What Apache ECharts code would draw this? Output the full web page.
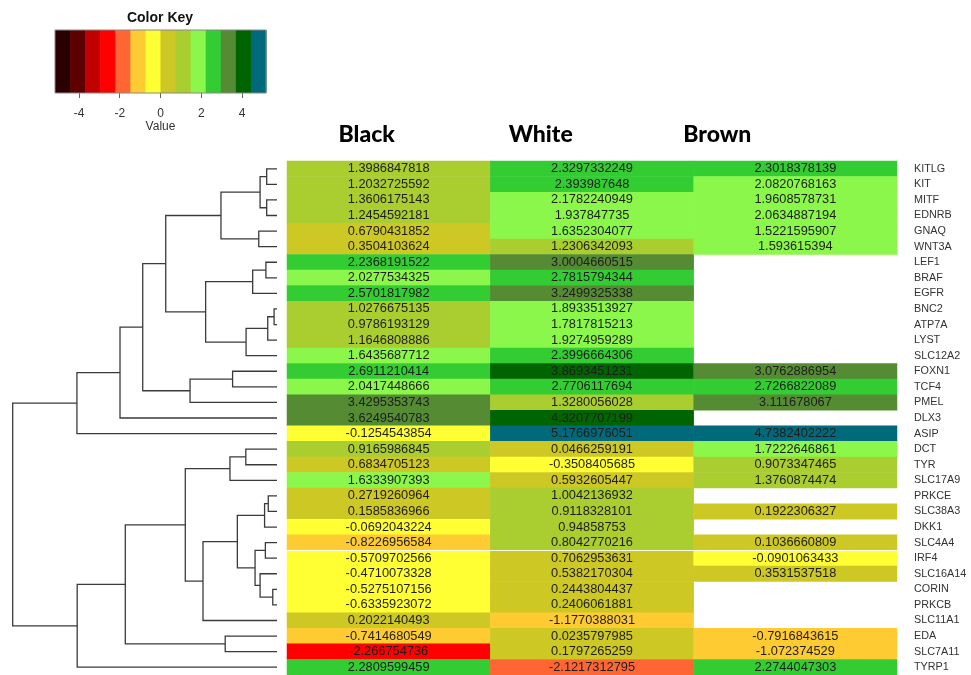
<!DOCTYPE html>
<html><head><meta charset="utf-8">
<script src="https://cdn.jsdelivr.net/npm/echarts@6/dist/echarts.min.js"></script>
<style>html,body{margin:0;padding:0;background:#fff}#c{width:971px;height:675px}</style>
</head><body><div id="c"></div>
<script>
// ---------- DATA ----------
const columns = ['Black', 'White', 'Brown'];
const genes = ['KITLG','KIT','MITF','EDNRB','GNAQ','WNT3A','LEF1','BRAF','EGFR','BNC2','ATP7A','LYST','SLC12A2','FOXN1','TCF4','PMEL','DLX3','ASIP','DCT','TYR','SLC17A9','PRKCE','SLC38A3','DKK1','SLC4A4','IRF4','SLC16A14','CORIN','PRKCB','SLC11A1','EDA','SLC7A11','TYRP1'];
const black = [1.3986847818, 1.2032725592, 1.3606175143, 1.2454592181, 0.6790431852, 0.3504103624, 2.2368191522, 2.0277534325, 2.5701817982, 1.0276675135, 0.9786193129, 1.1646808886, 1.6435687712, 2.6911210414, 2.0417448666, 3.4295353743, 3.6249540783, -0.1254543854, 0.9165986845, 0.6834705123, 1.6333907393, 0.2719260964, 0.1585836966, -0.0692043224, -0.8226956584, -0.5709702566, -0.4710073328, -0.5275107156, -0.6335923072, 0.2022140493, -0.7414680549, -2.266754736, 2.2809599459];
const white = [2.3297332249, 2.393987648, 2.1782240949, 1.937847735, 1.6352304077, 1.2306342093, 3.0004660515, 2.7815794344, 3.2499325338, 1.8933513927, 1.7817815213, 1.9274959289, 2.3996664306, 3.8693451231, 2.7706117694, 1.3280056028, 4.3207707199, 5.1766976051, 0.0466259191, -0.3508405685, 0.5932605447, 1.0042136932, 0.9118328101, 0.94858753, 0.8042770216, 0.7062953631, 0.5382170304, 0.2443804437, 0.2406061881, -1.1770388031, 0.0235797985, 0.1797265259, -2.1217312795];
const brown = [2.3018378139, 2.0820768163, 1.9608578731, 2.0634887194, 1.5221595907, 1.593615394, null, null, null, null, null, null, null, 3.0762886954, 2.7266822089, 3.111678067, null, 4.7382402222, 1.7222646861, 0.9073347465, 1.3760874474, null, 0.1922306327, null, 0.1036660809, -0.0901063433, 0.3531537518, null, null, null, -0.7916843615, -1.072374529, 2.2744047303];
const keyTicks = [-4, -2, 0, 2, 4];
const keyColors = ['#2a0000','#5c0000','#c10000','#ff0000','#ff6633','#ffcb33','#ffff33','#cdc823','#aacd2f','#8af74a','#33cc33','#558b33','#006400','#00697a'];
// dendrogram: [height, left, right]
const tree = [10,
  [7.57,
    [5.94,
      [5.08,
        [4.21,
          [2.12, [0.64, [0.39, 'KITLG', 'KIT'], [0.39, 'MITF', 'EDNRB']], [0.69, 'GNAQ', 'WNT3A']],
          [2.70, [0.92, [0.42, 'LEF1', 'BRAF'], 'EGFR'], [1.17, [0.35, [0.11, 'BNC2', 'ATP7A'], 'LYST'], 'SLC12A2']]
        ],
        [3.29, [1.68, 'FOXN1', 'TCF4'], 'PMEL']
      ],
      'DLX3'
    ],
    'ASIP'
  ],
  [7.56,
    [5.74,
      [3.47,
        [1.78, [1.18, 'DCT', 'TYR'], 'SLC17A9'],
        [2.80,
          [1.50,
            [0.47, [0.33, 'PRKCE', 'SLC38A3'], 'DKK1'],
            [0.83, [0.44, 'SLC4A4', 'IRF4'], [0.64, 'SLC16A14', [0.16, 'CORIN', 'PRKCB']]]
          ],
          'SLC11A1'
        ]
      ],
      [1.96, 'EDA', 'SLC7A11']
    ],
    'TYRP1'
  ]
];
const rowSeparators = [25];

// ---------- BUILD ----------
const cols = [black, white, brown];
const heatData = [];
cols.forEach((arr, ci) => arr.forEach((v, ri) => { if (v != null) heatData.push([ci, ri, v]); }));
const keyMax = Math.max(...heatData.map(d => Math.abs(d[2])));
const nb = keyColors.length, step = 2 * keyMax / nb;
const pieces = keyColors.map((c, i) => {
  const p = { gte: -keyMax + i * step, color: c };
  if (i === nb - 1) p.lte = keyMax + 1e-9; else p.lt = -keyMax + (i + 1) * step;
  return p;
});
const bins = keyColors.map((c, i) => [-keyMax + i * step, -keyMax + (i + 1) * step, i]);

const leafPos = {}; genes.forEach((g, i) => leafPos[g] = i);
const segs = [];
function walk(n) {
  if (typeof n === 'string') return { h: 0, y: leafPos[n] };
  const a = walk(n[1]), b = walk(n[2]);
  segs.push({ coords: [[a.h, a.y], [n[0], a.y], [n[0], b.y], [b.h, b.y]] });
  return { h: n[0], y: (a.y + b.y) / 2 };
}
walk(tree);
const treeMax = tree[0];
const sepData = rowSeparators.map(r => ({ coords: [[0, r - 0.5], [columns.length, r - 0.5]] }));

const headerX = [366.7, 540.7, 717.3];
const font = 'Liberation Sans, Arial, Helvetica, sans-serif';

const chart = echarts.init(document.getElementById('c'), null, { renderer: 'canvas' });
const hmGrid = { left: 287, top: 161, width: 610, height: 518 };
chart.setOption({
  backgroundColor: '#fff',
  animation: false,
  textStyle: { fontFamily: font },
  grid: [
    Object.assign({}, hmGrid),
    { left: 12.7, top: 161, width: 264.3, height: 518 },
    { left: 55, top: 30, width: 211, height: 63 },
    Object.assign({}, hmGrid)
  ],
  xAxis: [
    { type: 'category', gridIndex: 0, data: columns, show: false },
    { type: 'value', gridIndex: 1, min: 0, max: treeMax, inverse: true, show: false },
    { type: 'value', gridIndex: 2, min: -keyMax, max: keyMax,
      name: 'Value', nameLocation: 'middle', nameGap: 28,
      nameTextStyle: { fontSize: 12, color: '#333', fontFamily: font },
      axisLine: { show: false },
      axisTick: { show: true, customValues: keyTicks, length: 5, lineStyle: { color: '#666' } },
      axisLabel: { show: true, customValues: keyTicks, margin: 15, fontSize: 12, color: '#333', fontFamily: font },
      splitLine: { show: false } },
    { type: 'value', gridIndex: 3, min: 0, max: columns.length, show: false }
  ],
  yAxis: [
    { type: 'category', gridIndex: 0, data: genes, inverse: true, position: 'right',
      axisLine: { show: false }, axisTick: { show: false }, splitLine: { show: false },
      axisLabel: { margin: 17, fontSize: 10.8, color: '#333', fontFamily: font, interval: 0 } },
    { type: 'value', gridIndex: 1, min: -0.5, max: genes.length - 0.5, inverse: true, show: false },
    { type: 'value', gridIndex: 2, min: 0, max: 1, show: false },
    { type: 'value', gridIndex: 3, min: -0.5, max: genes.length - 0.5, inverse: true, show: false }
  ],
  visualMap: { show: false, type: 'piecewise', seriesIndex: 0, dimension: 2, pieces: pieces },
  graphic: [
    { type: 'text', x: 160, y: 18, style: { text: 'Color Key', font: 'bold 14px ' + font, fill: '#111', textAlign: 'center', textVerticalAlign: 'middle' } }
  ].concat(columns.map((c, i) => ({
    type: 'text', x: headerX[i], y: 135,
    style: { text: c, font: '900 23px Lato, "Open Sans", sans-serif', fill: '#000', textAlign: 'center', textVerticalAlign: 'middle' }
  }))),
  series: [
    { type: 'heatmap', xAxisIndex: 0, yAxisIndex: 0, data: heatData, silent: true,
      emphasis: { disabled: true },
      label: { show: true, fontSize: 12.8, color: '#1e1e1e', fontFamily: font, formatter: p => String(p.value[2]) } },
    { type: 'lines', coordinateSystem: 'cartesian2d', xAxisIndex: 1, yAxisIndex: 1, polyline: true, silent: true,
      data: segs, lineStyle: { color: '#3a3a3a', width: 1.3, opacity: 1 } },
    { type: 'custom', xAxisIndex: 2, yAxisIndex: 2, data: bins, silent: true,
      renderItem: (params, api) => {
        const p0 = api.coord([api.value(0), 1]);
        const p1 = api.coord([api.value(1), 0]);
        return { type: 'rect', shape: { x: p0[0], y: p0[1], width: p1[0] - p0[0] + 0.6, height: p1[1] - p0[1] },
          style: { fill: keyColors[api.value(2)] } };
      } },
    { type: 'custom', xAxisIndex: 2, yAxisIndex: 2, data: [[-keyMax, keyMax]], silent: true, z: 5,
      renderItem: (params, api) => {
        const p0 = api.coord([api.value(0), 1]);
        const p1 = api.coord([api.value(1), 0]);
        return { type: 'rect', shape: { x: p0[0], y: p0[1], width: p1[0] - p0[0], height: p1[1] - p0[1] },
          style: { fill: 'none', stroke: '#888', lineWidth: 1 } };
      } },
    { type: 'lines', coordinateSystem: 'cartesian2d', xAxisIndex: 3, yAxisIndex: 3, silent: true, z: 5,
      data: sepData, lineStyle: { color: '#fff', width: 1, opacity: 0.9 } }
  ]
});
</script></body></html>
